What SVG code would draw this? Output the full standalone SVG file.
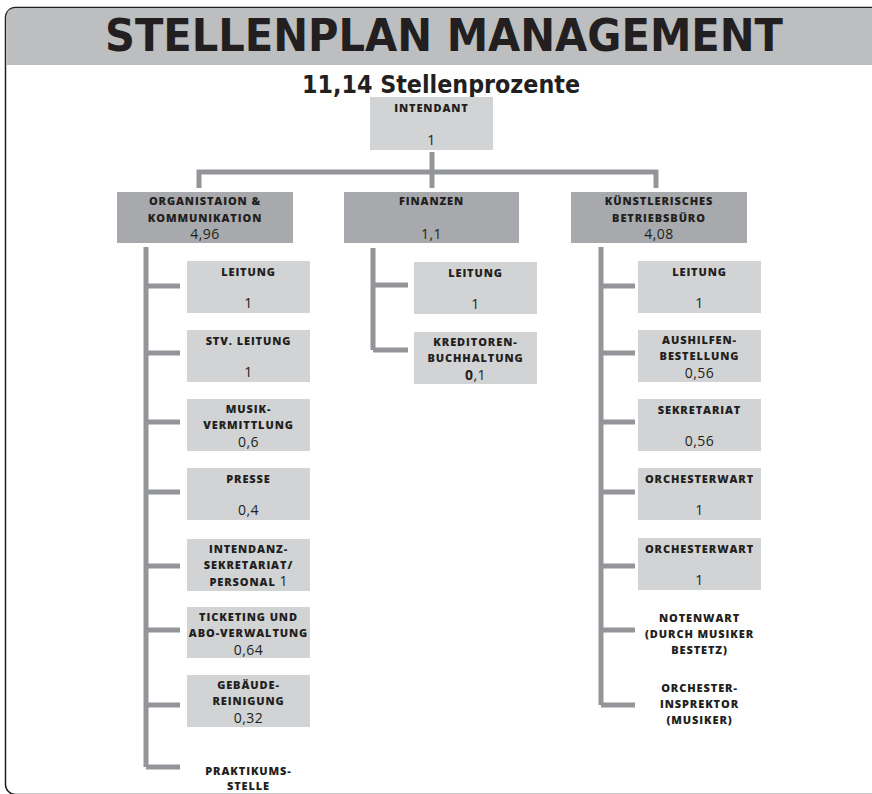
<svg xmlns="http://www.w3.org/2000/svg" width="872" height="794" viewBox="0 0 872 794">
<style>
.frame{fill:#ffffff;stroke:#231f20;stroke-width:1.5}
.band{fill:#bcbec0}
.title{font-family:"Liberation Sans Narrow","DejaVu Sans Condensed","DejaVu Sans",sans-serif;font-stretch:condensed;font-weight:bold;fill:#231f20}
.dept{fill:#a7a9ac}
.box{fill:#d1d3d4}
.lbl{font-family:"Open Sans","Liberation Sans",sans-serif;font-weight:800;font-size:11px;letter-spacing:0.9px;fill:#231f20;text-anchor:middle}
.free{font-family:"Open Sans","Liberation Sans",sans-serif;font-weight:800;font-size:11px;letter-spacing:0.9px;fill:#231f20;text-anchor:middle}
.num{font-family:"Open Sans","Liberation Sans",sans-serif;font-size:14px;letter-spacing:0.5px;fill:#231f20;text-anchor:middle}
.con{fill:none;stroke:#939598;stroke-width:5}
</style>
<rect class="frame" x="5.5" y="7.5" width="900" height="787" rx="10"/>
<path class="band" d="M6.25,65 V17.5 Q6.25,8.25 15.5,8.25 H872 V65 Z"/>
<text class="title" x="105" y="51" font-size="44" textLength="678" lengthAdjust="spacingAndGlyphs">STELLENPLAN MANAGEMENT</text>
<text class="title" x="302" y="93" font-size="24" textLength="278" lengthAdjust="spacingAndGlyphs">11,14 Stellenprozente</text>

<g id="connectors">
<path class="con" d="M199,188 V172 H656 V188"/>
<path class="con" d="M432,152 V188"/>
<path class="con" d="M146,247 V767 M146,286 H180 M146,353 H180 M146,422 H180 M146,492 H180 M146,566 H180 M146,630 H180 M146,705 H180 M146,767 H180"/>
<path class="con" d="M373,248 V350 M373,285 H408 M373,350 H408"/>
<path class="con" d="M601,247 V705 M601,286 H635 M601,353 H635 M601,422 H635 M601,492 H635 M601,566 H635 M601,630 H635 M601,705 H635"/>
</g>

<g id="intendant">
<rect class="box" x="370" y="97" width="123" height="53"/>
<text class="lbl" x="431.5" y="112">INTENDANT</text>
<text class="num" x="431.5" y="145">1</text>
</g>

<g id="org">
<rect class="dept" x="117" y="192" width="176" height="51"/>
<text class="lbl" x="205" y="205">ORGANISTAION &amp;</text>
<text class="lbl" x="205" y="222">KOMMUNIKATION</text>
<text class="num" x="205" y="239">4,96</text>
</g>
<g id="finanzen">
<rect class="dept" x="344" y="192" width="175" height="51"/>
<text class="lbl" x="431.5" y="205">FINANZEN</text>
<text class="num" x="431.5" y="239">1,1</text>
</g>
<g id="kbb">
<rect class="dept" x="571" y="192" width="176" height="51"/>
<text class="lbl" x="659" y="205">KÜNSTLERISCHES</text>
<text class="lbl" x="659" y="222">BETRIEBSBÜRO</text>
<text class="num" x="659" y="239">4,08</text>
</g>

<g id="org-leitung">
<rect class="box" x="187" y="261" width="123" height="52"/>
<text class="lbl" x="248.5" y="276">LEITUNG</text>
<text class="num" x="248.5" y="308">1</text>
</g>
<g id="org-stv">
<rect class="box" x="187" y="330" width="123" height="52"/>
<text class="lbl" x="248.5" y="345">STV. LEITUNG</text>
<text class="num" x="248.5" y="377">1</text>
</g>
<g id="org-musik">
<rect class="box" x="187" y="399" width="123" height="52"/>
<text class="lbl" x="248.5" y="413">MUSIK-</text>
<text class="lbl" x="248.5" y="429">VERMITTLUNG</text>
<text class="num" x="248.5" y="447">0,6</text>
</g>
<g id="org-presse">
<rect class="box" x="187" y="468" width="123" height="52"/>
<text class="lbl" x="248.5" y="483">PRESSE</text>
<text class="num" x="248.5" y="515">0,4</text>
</g>
<g id="org-intendanz">
<rect class="box" x="187" y="539" width="123" height="52"/>
<text class="lbl" x="248.5" y="553">INTENDANZ-</text>
<text class="lbl" x="248.5" y="569">SEKRETARIAT/</text>
<text class="lbl" x="248.5" y="586">PERSONAL <tspan style="font-weight:normal;font-size:14px;letter-spacing:0">1</tspan></text>
</g>
<g id="org-ticketing">
<rect class="box" x="187" y="607" width="123" height="51"/>
<text class="lbl" x="248.5" y="621">TICKETING UND</text>
<text class="lbl" x="248.5" y="637">ABO-VERWALTUNG</text>
<text class="num" x="248.5" y="655">0,64</text>
</g>
<g id="org-gebaeude">
<rect class="box" x="187" y="675" width="123" height="52"/>
<text class="lbl" x="248.5" y="689">GEBÄUDE-</text>
<text class="lbl" x="248.5" y="705">REINIGUNG</text>
<text class="num" x="248.5" y="723">0,32</text>
</g>
<g id="org-praktikum">
<text class="free" x="248.5" y="775">PRAKTIKUMS-</text>
<text class="free" x="248.5" y="790">STELLE</text>
</g>

<g id="fin-leitung">
<rect class="box" x="414" y="262" width="123" height="52"/>
<text class="lbl" x="475.5" y="277">LEITUNG</text>
<text class="num" x="475.5" y="309">1</text>
</g>
<g id="fin-kreditoren">
<rect class="box" x="414" y="332" width="123" height="52"/>
<text class="lbl" x="475.5" y="346">KREDITOREN-</text>
<text class="lbl" x="475.5" y="362">BUCHHALTUNG</text>
<text class="num" x="475.5" y="380"><tspan font-weight="bold">0</tspan>,1</text>
</g>

<g id="kbb-leitung">
<rect class="box" x="638" y="261" width="123" height="52"/>
<text class="lbl" x="699.5" y="276">LEITUNG</text>
<text class="num" x="699.5" y="308">1</text>
</g>
<g id="kbb-aushilfen">
<rect class="box" x="638" y="330" width="123" height="52"/>
<text class="lbl" x="699.5" y="344">AUSHILFEN-</text>
<text class="lbl" x="699.5" y="360">BESTELLUNG</text>
<text class="num" x="699.5" y="378">0,56</text>
</g>
<g id="kbb-sekretariat">
<rect class="box" x="638" y="399" width="123" height="52"/>
<text class="lbl" x="699.5" y="414">SEKRETARIAT</text>
<text class="num" x="699.5" y="446">0,56</text>
</g>
<g id="kbb-orchesterwart1">
<rect class="box" x="638" y="468" width="123" height="52"/>
<text class="lbl" x="699.5" y="483">ORCHESTERWART</text>
<text class="num" x="699.5" y="515">1</text>
</g>
<g id="kbb-orchesterwart2">
<rect class="box" x="638" y="538" width="123" height="52"/>
<text class="lbl" x="699.5" y="553">ORCHESTERWART</text>
<text class="num" x="699.5" y="585">1</text>
</g>
<g id="kbb-notenwart">
<text class="free" x="699.5" y="622">NOTENWART</text>
<text class="free" x="699.5" y="638">(DURCH MUSIKER</text>
<text class="free" x="699.5" y="654">BESTETZ)</text>
</g>
<g id="kbb-inspektor">
<text class="free" x="699.5" y="692">ORCHESTER-</text>
<text class="free" x="699.5" y="708">INSPREKTOR</text>
<text class="free" x="699.5" y="724">(MUSIKER)</text>
</g>
</svg>
